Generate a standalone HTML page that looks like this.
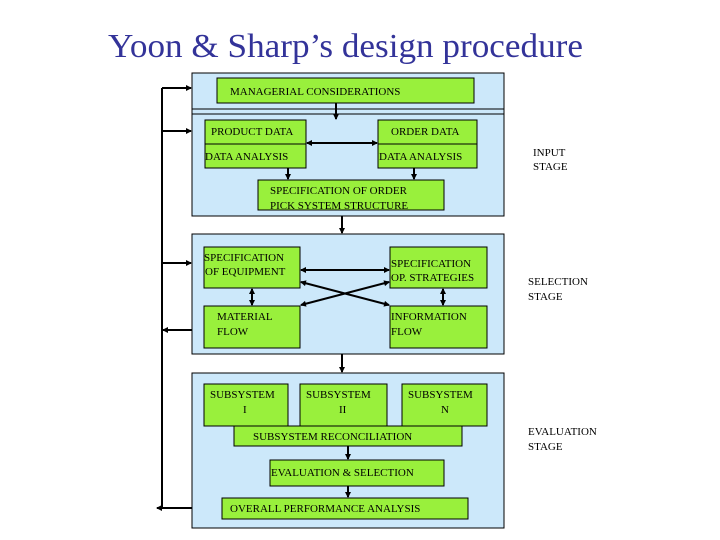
<!DOCTYPE html>
<html><head><meta charset="utf-8"><style>
html,body{margin:0;padding:0;background:#fff;}
svg{display:block;}
text{font-family:"Liberation Serif",serif;}
.b{font-size:11px;fill:#000;}
</style></head><body>
<svg width="720" height="540" viewBox="0 0 720 540" xmlns="http://www.w3.org/2000/svg">
<defs>
<marker id="a" markerWidth="6" markerHeight="6" refX="5" refY="3" orient="auto-start-reverse" markerUnits="userSpaceOnUse"><path d="M0,0 L6,3 L0,6 z" fill="#000"/></marker>
</defs>
<text x="108" y="57" font-size="34" fill="#333399" textLength="475" lengthAdjust="spacingAndGlyphs">Yoon &amp; Sharp’s design procedure</text>

<g stroke="#000" stroke-width="1">
<rect x="192" y="73" width="312" height="143" fill="#cce8fa"/>
<line x1="192" y1="109" x2="504" y2="109"/>
<line x1="192" y1="114" x2="504" y2="114"/>
<rect x="192" y="234" width="312" height="120" fill="#cce8fa"/>
<rect x="192" y="373" width="312" height="155" fill="#cce8fa"/>

<rect x="217" y="78" width="257" height="25" fill="#99f03c"/>
<rect x="205" y="120" width="101" height="48" fill="#99f03c"/>
<line x1="205" y1="144" x2="306" y2="144"/>
<rect x="378" y="120" width="99" height="48" fill="#99f03c"/>
<line x1="378" y1="144" x2="477" y2="144"/>
<rect x="258" y="180" width="186" height="30" fill="#99f03c"/>

<rect x="204" y="247" width="96" height="41" fill="#99f03c"/>
<rect x="390" y="247" width="97" height="41" fill="#99f03c"/>
<rect x="204" y="306" width="96" height="42" fill="#99f03c"/>
<rect x="390" y="306" width="97" height="42" fill="#99f03c"/>

<rect x="204" y="384" width="84" height="42" fill="#99f03c"/>
<rect x="300" y="384" width="87" height="42" fill="#99f03c"/>
<rect x="402" y="384" width="85" height="42" fill="#99f03c"/>
<rect x="234" y="426" width="228" height="20" fill="#99f03c"/>
<rect x="270" y="460" width="174" height="26" fill="#99f03c"/>
<rect x="222" y="498" width="246" height="21" fill="#99f03c"/>
</g>

<g stroke="#000" stroke-width="2" fill="none">
<line x1="162" y1="88" x2="162" y2="508"/>
<line x1="162" y1="88" x2="191" y2="88" marker-end="url(#a)"/>
<line x1="162" y1="131" x2="191" y2="131" marker-end="url(#a)"/>
<line x1="162" y1="263" x2="191" y2="263" marker-end="url(#a)"/>
<line x1="192" y1="330" x2="163" y2="330" marker-end="url(#a)"/>
<line x1="192" y1="508" x2="157" y2="508" marker-end="url(#a)"/>
<line x1="336" y1="103" x2="336" y2="119" marker-end="url(#a)"/>
<line x1="307" y1="143" x2="377" y2="143" marker-start="url(#a)" marker-end="url(#a)"/>
<line x1="288" y1="168" x2="288" y2="179" marker-end="url(#a)"/>
<line x1="414" y1="168" x2="414" y2="179" marker-end="url(#a)"/>
<line x1="342" y1="216" x2="342" y2="233" marker-end="url(#a)"/>
<line x1="301" y1="270" x2="389" y2="270" marker-start="url(#a)" marker-end="url(#a)"/>
<line x1="301" y1="282" x2="389" y2="305" marker-start="url(#a)" marker-end="url(#a)"/>
<line x1="301" y1="305" x2="389" y2="282" marker-start="url(#a)" marker-end="url(#a)"/>
<line x1="252" y1="289" x2="252" y2="305" marker-start="url(#a)" marker-end="url(#a)"/>
<line x1="443" y1="289" x2="443" y2="305" marker-start="url(#a)" marker-end="url(#a)"/>
<line x1="342" y1="354" x2="342" y2="372" marker-end="url(#a)"/>
<line x1="348" y1="446" x2="348" y2="459" marker-end="url(#a)"/>
<line x1="348" y1="486" x2="348" y2="497" marker-end="url(#a)"/>
</g>

<g class="b">
<text x="230" y="95">MANAGERIAL CONSIDERATIONS</text>
<text x="211" y="135">PRODUCT DATA</text>
<text x="391" y="135">ORDER DATA</text>
<text x="205" y="160">DATA ANALYSIS</text>
<text x="379" y="160">DATA ANALYSIS</text>
<text x="270" y="194">SPECIFICATION OF ORDER</text>
<text x="270" y="209">PICK SYSTEM STRUCTURE</text>
<text x="204" y="261">SPECIFICATION</text>
<text x="205" y="275">OF EQUIPMENT</text>
<text x="391" y="267">SPECIFICATION</text>
<text x="391" y="281">OP. STRATEGIES</text>
<text x="217" y="320">MATERIAL</text>
<text x="217" y="335">FLOW</text>
<text x="391" y="320">INFORMATION</text>
<text x="391" y="335">FLOW</text>
<text x="210" y="398">SUBSYSTEM</text>
<text x="243" y="413">I</text>
<text x="306" y="398">SUBSYSTEM</text>
<text x="339" y="413">II</text>
<text x="408" y="398">SUBSYSTEM</text>
<text x="441" y="413">N</text>
<text x="253" y="440">SUBSYSTEM RECONCILIATION</text>
<text x="271" y="476">EVALUATION &amp; SELECTION</text>
<text x="230" y="512">OVERALL PERFORMANCE ANALYSIS</text>
<text x="533" y="156">INPUT</text>
<text x="533" y="170">STAGE</text>
<text x="528" y="285">SELECTION</text>
<text x="528" y="300">STAGE</text>
<text x="528" y="435">EVALUATION</text>
<text x="528" y="450">STAGE</text>
</g>
</svg>
</body></html>
